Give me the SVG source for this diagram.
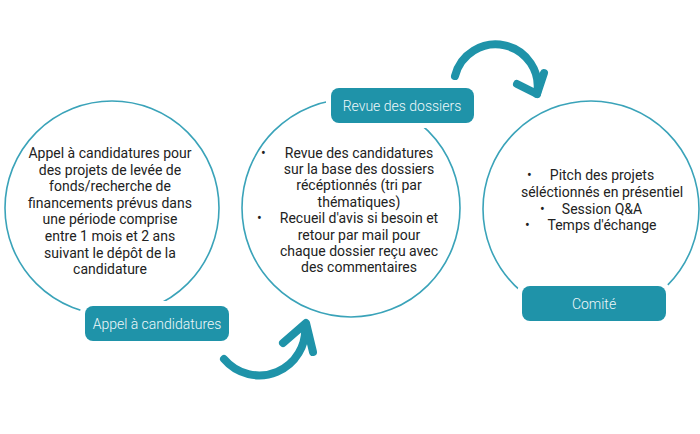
<svg xmlns="http://www.w3.org/2000/svg" width="700" height="434" viewBox="0 0 700 434">
<style>
.ring{fill:none;stroke:#3aa3b9;stroke-width:1.6}
.body{font-family:Roboto,"Liberation Sans",sans-serif;font-size:14px;fill:#222;text-anchor:middle}
.bul{font-family:Roboto,"Liberation Sans",sans-serif;font-size:14px;fill:#222}
.pad{fill:#fff}
.tag{fill:#1f93a9}
.tagtext{font-family:Roboto,"Liberation Sans",sans-serif;font-size:14px;font-weight:300;fill:#eef8fa;text-anchor:middle}
.arrow{fill:none;stroke:#1f93a9;stroke-width:8;stroke-linecap:round;stroke-linejoin:round}
</style>
<rect width="700" height="434" fill="#fff"/>
<g id="connectors">
<path class="arrow" d="M224,359 A46,46 0 0 0 305,325"/>
<path class="arrow" d="M283,343 L306,323 L313,352"/>
<path class="arrow" d="M455,76 A42,42 0 0 1 537,94"/>
<path class="arrow" d="M517,84 L537,94 L544,73"/>
</g>
<g id="node-appel">
<circle class="ring" cx="112" cy="208" r="107"/>
<text class="body"><tspan x="110" y="158">Appel à candidatures pour</tspan><tspan x="110" y="174.6">des projets de levée de</tspan><tspan x="110" y="191.2">fonds/recherche de</tspan><tspan x="110" y="207.8">financements prévus dans</tspan><tspan x="110" y="224.4">une période comprise</tspan><tspan x="110" y="241">entre 1 mois et 2 ans</tspan><tspan x="110" y="257.6">suivant le dépôt de la</tspan><tspan x="110" y="274.2">candidature</tspan></text>
<rect class="pad" x="80" y="301" width="154" height="45" rx="12"/>
<rect class="tag" x="85" y="306" width="144" height="35" rx="8"/>
<text class="tagtext" x="157" y="328.5">Appel à candidatures</text>
</g>
<g id="node-revue">
<circle class="ring" cx="351" cy="208" r="109"/>
<text class="bul" x="261" y="157.5">•</text>
<text class="bul" x="257" y="223">•</text>
<text class="body"><tspan x="359" y="157.5">Revue des candidatures</tspan><tspan x="359" y="173.9">sur la base des dossiers</tspan><tspan x="359" y="190.3">récéptionnés (tri par</tspan><tspan x="359" y="206.7">thématiques)</tspan><tspan x="359" y="223.1">Recueil d'avis si besoin et</tspan><tspan x="359" y="239.5">retour par mail pour</tspan><tspan x="359" y="255.9">chaque dossier reçu avec</tspan><tspan x="359" y="272.3">des commentaires</tspan></text>
<rect class="pad" x="326" y="83" width="153" height="45" rx="12"/>
<rect class="tag" x="331" y="88" width="143" height="35" rx="8"/>
<text class="tagtext" x="402" y="110.5">Revue des dossiers</text>
</g>
<g id="node-comite">
<circle class="ring" cx="591" cy="209" r="108"/>
<text class="bul" x="527" y="180">•</text>
<text class="bul" x="540" y="213.5">•</text>
<text class="bul" x="525" y="230.3">•</text>
<text class="body"><tspan x="602" y="180">Pitch des projets</tspan><tspan x="602" y="196.7">séléctionnés en présentiel</tspan><tspan x="602" y="213.5">Session Q&amp;A</tspan><tspan x="602" y="230.3">Temps d'échange</tspan></text>
<rect class="pad" x="517" y="281" width="154" height="45" rx="12"/>
<rect class="tag" x="522" y="286" width="144" height="35" rx="8"/>
<text class="tagtext" x="594" y="308.5">Comité</text>
</g>
</svg>
